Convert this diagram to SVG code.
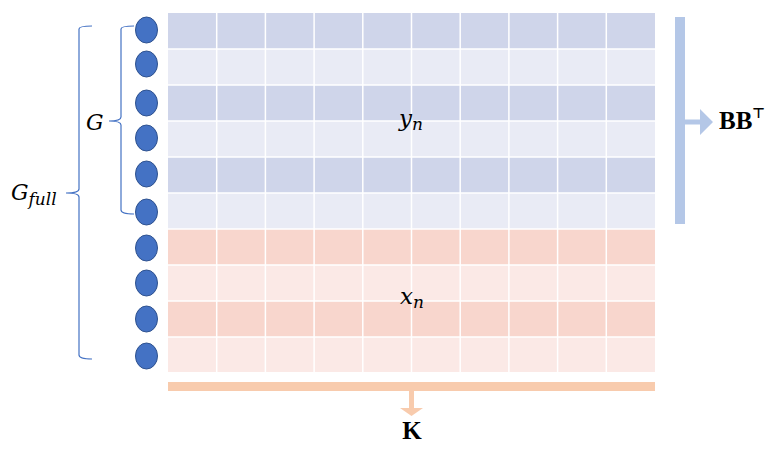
<svg xmlns="http://www.w3.org/2000/svg" width="781" height="451" viewBox="0 0 781 451">
<style>
.db{fill:#CFD5EA}.lb{fill:#E9EBF5}.dp{fill:#F8D6CD}.lp{fill:#FBE9E6}
.grid{stroke:#FFFFFF;stroke-width:1.5}
.node{fill:#4472C4;stroke:#2F528F;stroke-width:1}
.brace{fill:none;stroke:#4472C4;stroke-width:1.2}
.math{font-family:"DejaVu Serif","Liberation Serif",serif;font-style:italic;fill:#000}
.bold{font-family:"Liberation Serif","DejaVu Serif",serif;font-weight:bold;fill:#000}
</style>
<rect width="781" height="451" fill="#FFFFFF"/>
<g id="matrix">
<rect x="168" y="13" width="487" height="36" class="db"/>
<rect x="168" y="49" width="487" height="36" class="lb"/>
<rect x="168" y="85" width="487" height="36" class="db"/>
<rect x="168" y="121" width="487" height="36" class="lb"/>
<rect x="168" y="157" width="487" height="36" class="db"/>
<rect x="168" y="193" width="487" height="36" class="lb"/>
<rect x="168" y="229" width="487" height="36" class="dp"/>
<rect x="168" y="265" width="487" height="36" class="lp"/>
<rect x="168" y="301" width="487" height="36" class="dp"/>
<rect x="168" y="337" width="487" height="35" class="lp"/>
<g class="grid">
<line x1="216.7" y1="13" x2="216.7" y2="372"/><line x1="265.4" y1="13" x2="265.4" y2="372"/>
<line x1="314.1" y1="13" x2="314.1" y2="372"/><line x1="362.8" y1="13" x2="362.8" y2="372"/>
<line x1="411.5" y1="13" x2="411.5" y2="372"/><line x1="460.2" y1="13" x2="460.2" y2="372"/>
<line x1="508.9" y1="13" x2="508.9" y2="372"/><line x1="557.6" y1="13" x2="557.6" y2="372"/>
<line x1="606.3" y1="13" x2="606.3" y2="372"/>
<line x1="168" y1="49" x2="655" y2="49"/><line x1="168" y1="85" x2="655" y2="85"/>
<line x1="168" y1="121" x2="655" y2="121"/><line x1="168" y1="157" x2="655" y2="157"/>
<line x1="168" y1="193" x2="655" y2="193"/><line x1="168" y1="229" x2="655" y2="229"/>
<line x1="168" y1="265" x2="655" y2="265"/><line x1="168" y1="301" x2="655" y2="301"/>
<line x1="168" y1="337" x2="655" y2="337"/>
</g>
<text x="411" y="126" font-size="23" text-anchor="middle" class="math">y<tspan font-size="17" dy="4">n</tspan></text>
<text x="412" y="304" font-size="23" text-anchor="middle" class="math">x<tspan font-size="17" dy="4">n</tspan></text>
</g>
<g id="nodes">
<ellipse id="n1" cx="146.5" cy="30" rx="11" ry="13" class="node"/>
<ellipse id="n2" cx="146.5" cy="64" rx="11" ry="13" class="node"/>
<ellipse id="n3" cx="146.5" cy="103" rx="11" ry="13" class="node"/>
<ellipse id="n4" cx="146.5" cy="138" rx="11" ry="13" class="node"/>
<ellipse id="n5" cx="146.5" cy="174" rx="11" ry="13" class="node"/>
<ellipse id="n6" cx="146.5" cy="212" rx="11" ry="13" class="node"/>
<ellipse id="n7" cx="146.5" cy="248" rx="11" ry="13" class="node"/>
<ellipse id="n8" cx="146.5" cy="283" rx="11" ry="13" class="node"/>
<ellipse id="n9" cx="146.5" cy="319" rx="11" ry="13" class="node"/>
<ellipse id="n10" cx="146.5" cy="356" rx="11" ry="13" class="node"/>
</g>
<g id="brace-G">
<path class="brace" d="M134,26 Q121,26 121,29 L121,117 Q121,121 109,121 Q121,121 121,125 L121,210 Q121,214 134,214"/>
<text x="86" y="130" font-size="22" class="math">G</text>
</g>
<g id="brace-Gfull">
<path class="brace" d="M92,26 Q79,26 79,29 L79,189 Q79,193 66,193 Q79,193 79,197 L79,355 Q79,359 92,359"/>
<text x="11" y="200" font-size="22" class="math">G<tspan font-size="17" dy="5">full</tspan></text>
</g>
<g id="connectors">
<rect x="675" y="17" width="10" height="207" fill="#B4C7E7"/>
<polygon points="685,119.5 700,119.5 700,109 713,122 700,135 700,124.5 685,124.5" fill="#B4C7E7"/>
<rect x="168" y="382" width="487" height="9" fill="#F8CBAD"/>
<polygon points="409,391 414,391 414,408 423,408 411.5,416 400,408 409,408" fill="#F8CBAD"/>
</g>
<g id="labels">
<text x="719" y="129" font-size="25" class="bold">BB<tspan font-family="DejaVu Sans,sans-serif" font-weight="bold" font-size="14" dy="-11">⊤</tspan></text>
<text x="412" y="439" font-size="25" text-anchor="middle" class="bold">K</text>
</g>
</svg>
